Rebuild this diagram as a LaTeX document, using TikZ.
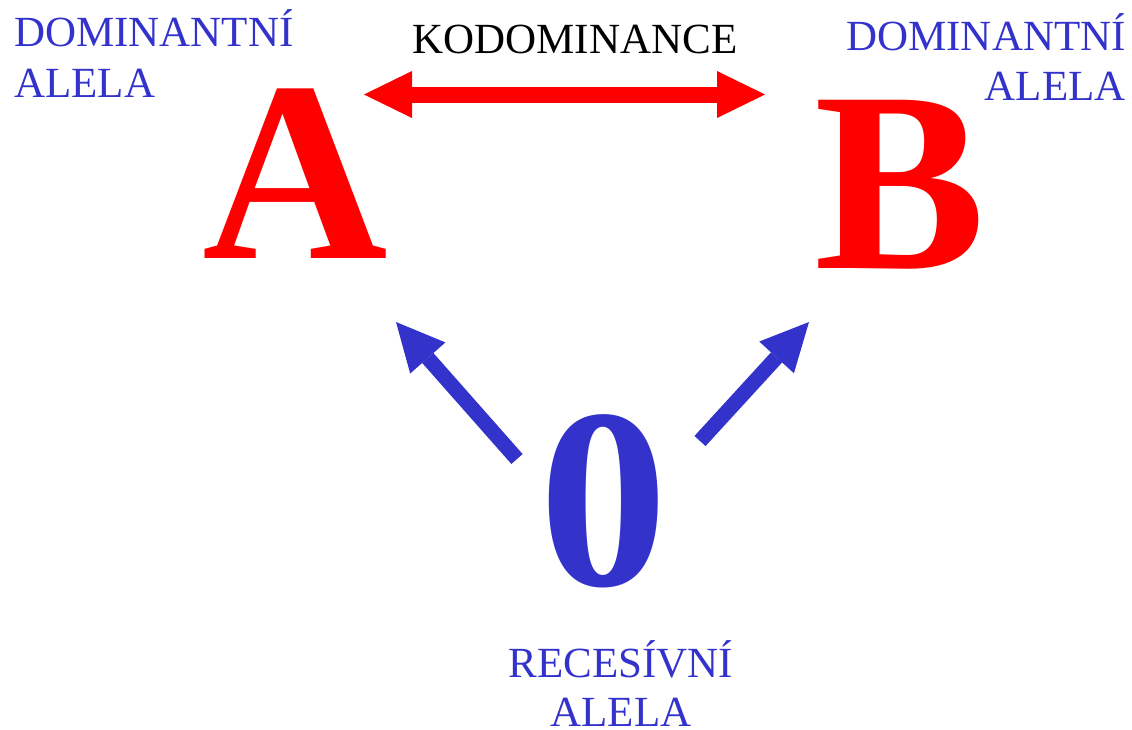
\documentclass[tikz,border=0pt]{standalone}
\usepackage{fontspec}
\setmainfont{Liberation Serif}
\usetikzlibrary{arrows.meta}
\definecolor{alblue}{RGB}{51,51,204}
\definecolor{alred}{RGB}{255,0,0}
\begin{document}
\begin{tikzpicture}[x=1pt,y=-1pt,
  lbl/.style={inner sep=0pt, text=alblue, font=\fontsize{43}{43}\selectfont},
  big/.style={inner sep=0pt, font=\fontsize{257}{257}\selectfont\bfseries, anchor=base},
  redarrow/.style={draw=alred, line width=16pt, {Triangle[length=48pt,width=47pt,line width=0pt]}-{Triangle[length=48pt,width=47pt,line width=0pt]}},
  bluearrow/.style={draw=alblue, line width=15pt, -{Triangle[length=48pt,width=47pt,line width=0pt]}}
]
\useasboundingbox (0,0) rectangle (1132,729);
% big letters
\node[big, text=alred] (A) at (295,258) {A};
\node[big, text=alred] (B) at (900,268) {B};
\node[big, text=alblue] (Z) at (604,585) {0};
% labels
\node[lbl, anchor=base west] (domL1) at (14,46) {DOMINANTNÍ};
\node[lbl, anchor=base west] (domL2) at (14,97) {ALELA};
\node[lbl, anchor=base east] (domR1) at (1126,50) {DOMINANTNÍ};
\node[lbl, anchor=base east] (domR2) at (1126,100) {ALELA};
\node[lbl, anchor=base, text=black] (kod) at (575,53) {KODOMINANCE};
\node[lbl, anchor=base] (rec1) at (621,677) {RECESÍVNÍ};
\node[lbl, anchor=base] (rec2) at (621,726) {ALELA};
% arrow end points
\coordinate (kL) at (364,94.5);
\coordinate (kR) at (765,94.5);
\coordinate (zL) at (517,459);
\coordinate (aT) at (396,322);
\coordinate (zR) at (700,441);
\coordinate (bT) at (809,322);
\draw[redarrow] (kL) -- (kR);
\draw[bluearrow] (zL) -- (aT);
\draw[bluearrow] (zR) -- (bT);
\end{tikzpicture}
\end{document}
